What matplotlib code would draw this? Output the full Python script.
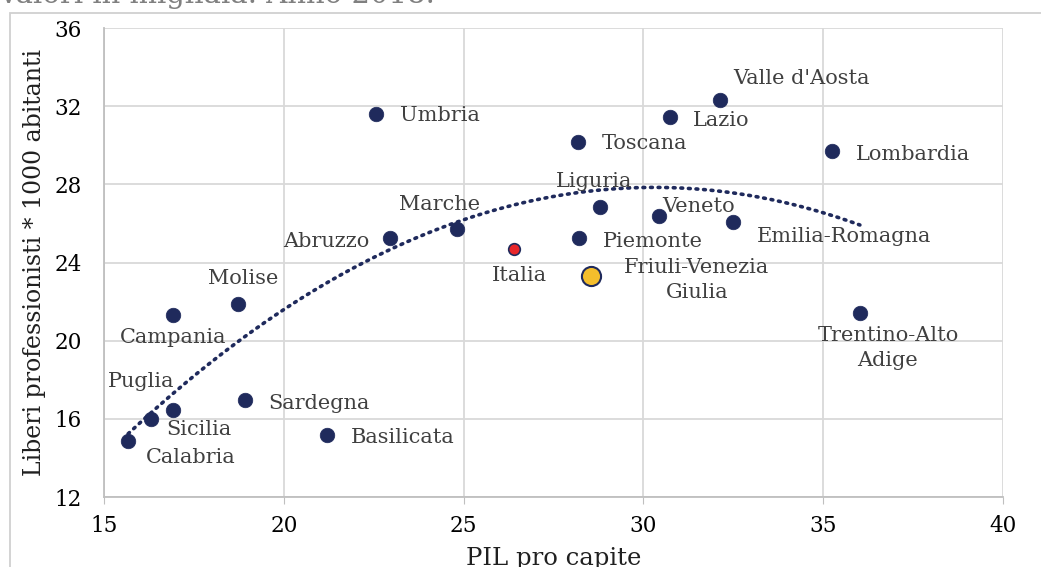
import numpy as np
import matplotlib
matplotlib.use("Agg")
import matplotlib.pyplot as plt
from matplotlib.patches import Rectangle

# data (PIL pro capite, liberi professionisti * 1000 ab.)
regions = ["Umbria", "Valle d'Aosta", "Lazio", "Toscana", "Lombardia", "Liguria",
           "Veneto", "Emilia-Romagna", "Marche", "Abruzzo", "Piemonte",
           "Friuli-Venezia\nGiulia", "Molise", "Campania", "Trentino-Alto\nAdige",
           "Sardegna", "Puglia", "Sicilia", "Basilicata", "Calabria"]
pil = [22.56, 32.13, 30.74, 28.18, 35.24, 28.79, 30.43, 32.49, 24.82, 22.95,
       28.21, 28.54, 18.73, 16.92, 36.02, 18.92, 16.92, 16.31, 21.20, 15.67]
liberi = [31.6, 32.3, 31.45, 30.17, 29.7, 26.84, 26.38, 26.07, 25.71, 25.25,
          25.25, 23.31, 21.88, 21.31, 21.41, 16.96, 16.45, 15.99, 15.17, 14.86]
italia_pil = 26.40
italia_liberi = 24.69

x_ticks = [15, 20, 25, 30, 35, 40]
y_ticks = [12, 16, 20, 24, 28, 32, 36]

# label offsets in pixels (dx, dy, ha)
label_pos = {
    "Umbria": (24, -2, "left"), "Valle d'Aosta": (13, 22, "left"),
    "Lazio": (23, -4, "left"), "Toscana": (24, -2, "left"),
    "Lombardia": (24, -3, "left"), "Liguria": (-6, 26, "center"),
    "Veneto": (3, 9, "left"), "Emilia-Romagna": (24, -14, "left"),
    "Marche": (-18, 25, "center"), "Abruzzo": (-21, -3, "right"),
    "Piemonte": (24, -3, "left"), "Friuli-Venezia\nGiulia": (106, -4, "center"),
    "Molise": (5, 25, "center"), "Campania": (0, -22, "center"),
    "Trentino-Alto\nAdige": (28, -35, "center"), "Sardegna": (23, -3, "left"),
    "Puglia": (-32, 29, "center"), "Sicilia": (15, -10, "left"),
    "Basilicata": (24, -2, "left"), "Calabria": (63, -16, "center"),
}

navy = "#1F2A5C"
txt = "#404040"
plt.rcParams["font.family"] = ["DejaVu Serif"]

fig = plt.figure(figsize=(10.41, 5.67), dpi=100)
ax = fig.add_axes([104 / 1041, 1 - 497 / 567, 899 / 1041, 469 / 567])

# polynomial (2nd order) trend line like excel
coef = np.polyfit(pil, liberi, 2)
xs = np.linspace(min(pil), max(pil), 200)
ax.plot(xs, np.polyval(coef, xs), color=navy, lw=2.6, ls=(0, (0.5, 1.6)),
        dash_capstyle="round", zorder=2)

big = [r.startswith("Friuli") for r in regions]
for r, x, y, b in zip(regions, pil, liberi, big):
    if b:
        ax.scatter(x, y, s=190, color="#F4BE2C", edgecolor=navy, lw=1.5, zorder=4)
    else:
        ax.scatter(x, y, s=110, color=navy, edgecolor=navy, lw=0.5, zorder=4)
    dx, dy, ha = label_pos[r]
    ax.annotate(r, (x, y), xytext=(dx, dy), textcoords="offset pixels",
                ha=ha, va="center", fontsize=15, color=txt,
                linespacing=1.35, zorder=5)

ax.scatter(italia_pil, italia_liberi, s=70, color="#E8262A", edgecolor=navy,
           lw=1.2, zorder=4)
ax.annotate("Italia", (italia_pil, italia_liberi), xytext=(5, -26),
            textcoords="offset pixels", ha="center", va="center",
            fontsize=15, color=txt)

ax.set_xlim(15, 40)
ax.set_ylim(12, 36)
ax.set_xticks(x_ticks)
ax.set_yticks(y_ticks)
ax.grid(True, color="#D9D9D9", lw=1.3)
ax.set_axisbelow(True)
for s in ["top", "right"]:
    ax.spines[s].set_visible(False)
for s in ["left", "bottom"]:
    ax.spines[s].set_color("#BFBFBF")
    ax.spines[s].set_linewidth(1.3)
ax.tick_params(axis="x", length=5, color="#BFBFBF", labelsize=15.5, pad=8)
ax.tick_params(axis="y", length=0, labelsize=15.5, pad=16)
ax.set_xlabel("PIL pro capite", fontsize=17.5, color="#202020", labelpad=7)
ax.set_ylabel("Liberi professionisti * 1000 abitanti", fontsize=17,
              color="#202020", labelpad=6)

# outer chart frame and clipped subtitle
fig.patches.append(Rectangle((10 / 1041, -0.1), 1.2, 1.1 - 13 / 567,
                             transform=fig.transFigure, fill=False,
                             ec="#D0D0D0", lw=1.3))
fig.text(-0.003, 1 - 3 / 567, "Valori in migliaia. Anno 2018.", fontsize=21,
         color="#808080", va="baseline", ha="left")

fig.savefig("out.png", dpi=100)
